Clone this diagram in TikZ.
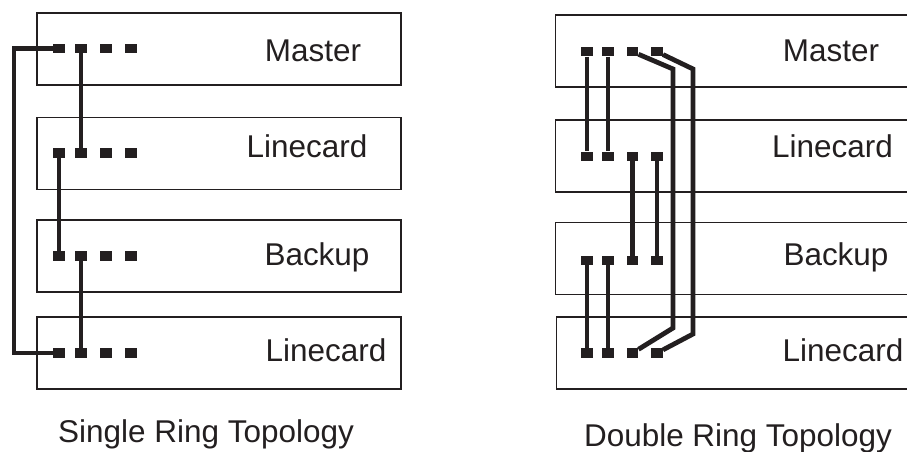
\documentclass[tikz,border=0pt]{standalone}
\usepackage{fontspec}
\setmainfont{Liberation Sans}
\usepackage{tikz}
\usetikzlibrary{positioning}
\definecolor{ringInk}{RGB}{35,31,32}

\begin{document}
\begin{tikzpicture}[
  x=0.75pt,y=-0.75pt,
  font=\fontsize{23.6}{28}\selectfont,
  cardbox/.style={draw=ringInk,line width=1.2pt,minimum width=273pt,minimum height=54pt,inner sep=0pt},
  port/.style={fill=ringInk,inner sep=0pt,minimum width=8.6pt,minimum height=7pt},
  wire/.style={draw=ringInk,line width=3.6pt,miter limit=4},
  cardlabel/.style={anchor=base,text=ringInk,inner sep=0pt}
]
\clip (0,0) rectangle (907,451);

% single ring
\node[cardbox] (sMaster) at (219,49) {};
\node[cardbox] (sLine1) at (219,153.5) {};
\node[cardbox] (sBackup) at (219,256) {};
\node[cardbox] (sLine2) at (219,353) {};
\node[cardlabel] (sMasterTxt) at (313,61) {Master};
\node[cardlabel] (sLine1Txt) at (307,157) {Linecard};
\node[cardlabel] (sBackupTxt) at (317,265) {Backup};
\node[cardlabel] (sLine2Txt) at (326,361) {Linecard};
\foreach \r/\y in {1/48.5,2/153,3/256,4/353}{
  \foreach \c/\x in {1/59,2/81,3/106,4/131}{\node[port] (s\r\c) at (\x,\y) {};}}
\coordinate (sLoopTop) at (14,48.5);
\draw[wire] (s11.west) -- (sLoopTop) |- (s41.west);
\foreach \a/\b in {s12/s22,s21/s31,s32/s42}{\draw[wire] (\a) -- (\b);}
\node[cardlabel] (sCaption) at (206,442) {Single Ring Topology};

% double ring
\node[cardbox] (dMaster) at (737.5,51) {};
\node[cardbox] (dLine1) at (737.5,156) {};
\node[cardbox] (dBackup) at (737.5,258.5) {};
\node[cardbox] (dLine2) at (738.5,353) {};
\node[cardlabel] (dMasterTxt) at (831,61) {Master};
\node[cardlabel] (dLine1Txt) at (832.5,157) {Linecard};
\node[cardlabel] (dBackupTxt) at (836,265) {Backup};
\node[cardlabel] (dLine2Txt) at (843,361) {Linecard};
\foreach \r/\y in {1/51.7,2/156.3,3/260.5,4/353}{
  \foreach \c/\x in {1/587,2/608,3/632.5,4/657}{\node[port] (d\r\c) at (\x,\y) {};}}
\foreach \a/\b in {d11/d21,d12/d22,d23/d33,d24/d34,d31/d41,d32/d42}{\draw[wire] (\a) -- (\b);}
\coordinate (dInTop) at (673,69);
\coordinate (dInBot) at (673,328);
\coordinate (dOutTop) at (693,69);
\coordinate (dOutBot) at (693,334);
\draw[wire] (d13) -- (dInTop) -- (dInBot) -- (d43);
\draw[wire] (d14) -- (dOutTop) -- (dOutBot) -- (d44);
\node[cardlabel] (dCaption) at (738,446) {Double Ring Topology};
\end{tikzpicture}
\end{document}
